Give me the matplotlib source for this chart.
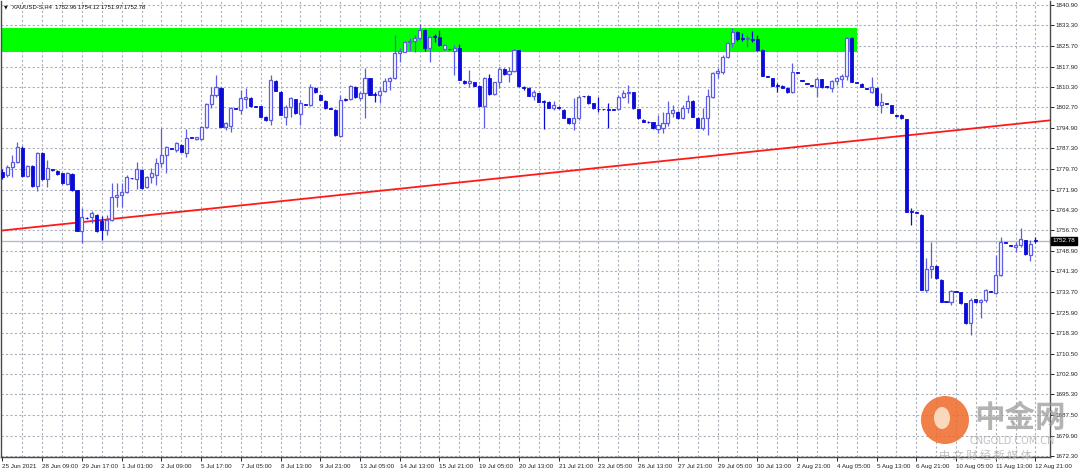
import numpy as np
import matplotlib
matplotlib.use("Agg")
import matplotlib.pyplot as plt
from matplotlib.patches import Rectangle, Ellipse
from matplotlib.transforms import blended_transform_factory

plt.rcParams["font.family"] = ["Liberation Sans", "DejaVu Sans"]

# ---- data: XAUUSD H4 candles ----
opens = [
    1778.6, 1777.4, 1780.2, 1782.3, 1787.6, 1777.0, 1780.7, 1773.2, 1785.5, 1775.7,
    1779.4, 1779.0, 1778.0, 1774.0, 1777.7, 1771.7, 1756.5, 1761.3, 1761.8, 1762.4,
    1760.0, 1756.8, 1760.5, 1769.0, 1769.9, 1771.1, 1776.3, 1775.7, 1779.2, 1773.0,
    1776.7, 1777.4, 1781.7, 1784.8, 1787.4, 1786.7, 1788.6, 1785.7, 1791.5, 1790.8,
    1790.8, 1795.4, 1803.9, 1807.3, 1810.0, 1795.2, 1795.7, 1802.3, 1801.7, 1805.6,
    1806.3, 1803.1, 1803.1, 1799.2, 1797.9, 1812.6, 1808.5, 1799.2, 1802.7, 1805.6,
    1800.2, 1803.9, 1803.4, 1810.0, 1807.3, 1805.0, 1802.3, 1801.7, 1792.0, 1805.4,
    1805.8, 1810.4, 1806.3, 1807.9, 1813.5, 1807.3, 1807.3, 1808.7, 1812.5, 1813.5,
    1822.8, 1823.5, 1826.9, 1827.4, 1828.4, 1831.6, 1824.9, 1829.1, 1829.0, 1824.5,
    1824.4, 1823.7, 1824.7, 1812.5, 1811.6, 1812.0, 1810.7, 1803.1, 1813.5, 1807.6,
    1812.0, 1817.0, 1815.0, 1816.2, 1823.9, 1810.2, 1810.0, 1806.9, 1807.9, 1805.0,
    1804.7, 1802.5, 1802.8, 1801.7, 1798.5, 1796.6, 1798.5, 1806.8, 1806.9, 1804.2,
    1802.0, 1802.0, 1801.9, 1801.8, 1801.9, 1806.6, 1808.0, 1808.2, 1801.9, 1797.9,
    1797.3, 1797.0, 1794.6, 1795.0, 1796.7, 1800.4, 1801.0, 1798.5, 1802.3, 1805.0,
    1798.8, 1794.8, 1798.5, 1806.6, 1815.4, 1816.0, 1821.4, 1826.6, 1830.7, 1828.2,
    1828.1, 1828.2, 1828.2, 1824.1, 1814.2, 1813.5, 1810.9, 1810.7, 1810.0, 1808.2,
    1815.6, 1812.6, 1811.7, 1810.9, 1810.4, 1813.2, 1810.4, 1810.0, 1812.6, 1813.2,
    1814.4, 1828.4, 1812.0, 1811.4, 1809.6, 1808.2, 1810.0, 1803.5, 1804.1, 1803.5,
    1799.5, 1799.8, 1798.2, 1763.6, 1763.3, 1762.5, 1734.4, 1742.2, 1743.5, 1738.1,
    1730.1, 1730.0, 1733.8, 1733.5, 1729.4, 1721.9, 1730.9, 1729.8, 1730.6, 1733.7,
    1733.1, 1739.9, 1752.2, 1751.0, 1750.6, 1751.2, 1753.0, 1747.4, 1752.96,
]
highs = [
    1779.5, 1781.0, 1784.8, 1789.8, 1788.0, 1781.1, 1781.0, 1785.8, 1785.8, 1783.0,
    1779.6, 1779.1, 1778.2, 1778.6, 1778.0, 1771.9, 1764.9, 1761.5, 1764.0, 1762.8,
    1762.0, 1762.4, 1774.2, 1774.2, 1774.2, 1777.4, 1776.4, 1782.3, 1779.4, 1777.0,
    1779.8, 1783.6, 1794.8, 1788.0, 1787.5, 1789.8, 1788.8, 1794.4, 1791.6, 1791.6,
    1795.7, 1804.1, 1810.4, 1814.7, 1810.2, 1797.3, 1802.9, 1802.5, 1809.1, 1809.8,
    1806.5, 1803.2, 1803.3, 1799.4, 1814.7, 1812.8, 1808.7, 1803.5, 1806.6, 1805.8,
    1805.4, 1804.0, 1811.4, 1810.2, 1807.5, 1805.2, 1802.4, 1801.9, 1807.3, 1806.0,
    1811.0, 1810.6, 1808.3, 1817.2, 1813.7, 1808.5, 1810.4, 1813.5, 1814.1, 1829.7,
    1824.7, 1827.4, 1828.4, 1829.7, 1833.7, 1831.8, 1829.4, 1830.0, 1831.6, 1826.3,
    1824.6, 1826.0, 1826.2, 1812.7, 1816.6, 1812.2, 1811.0, 1814.0, 1815.0, 1812.3,
    1817.8, 1817.2, 1817.8, 1824.4, 1824.2, 1810.5, 1810.2, 1809.0, 1808.1, 1805.3,
    1804.9, 1805.0, 1803.0, 1801.9, 1798.7, 1806.0, 1807.3, 1807.0, 1807.1, 1804.4,
    1806.6, 1802.1, 1804.2, 1801.9, 1807.3, 1809.1, 1811.0, 1808.4, 1802.1, 1798.1,
    1797.4, 1797.2, 1799.8, 1801.0, 1805.0, 1803.5, 1801.2, 1803.5, 1807.3, 1805.2,
    1799.0, 1802.5, 1809.5, 1816.0, 1817.2, 1822.2, 1827.2, 1832.4, 1831.0, 1830.3,
    1829.7, 1831.2, 1829.7, 1824.3, 1814.3, 1813.7, 1811.6, 1810.9, 1810.2, 1819.1,
    1815.7, 1812.7, 1811.8, 1811.0, 1814.1, 1813.4, 1810.6, 1812.9, 1814.1, 1815.0,
    1829.1, 1829.0, 1812.1, 1811.6, 1809.7, 1814.1, 1810.2, 1807.9, 1804.2, 1803.7,
    1799.6, 1800.0, 1798.4, 1764.9, 1763.4, 1762.7, 1746.4, 1752.4, 1743.7, 1738.3,
    1730.2, 1734.4, 1733.9, 1733.7, 1729.6, 1731.2, 1731.1, 1730.9, 1734.7, 1733.8,
    1747.4, 1754.3, 1752.3, 1751.1, 1752.4, 1757.6, 1753.2, 1753.0, 1754.12,
]
lows = [
    1775.8, 1776.5, 1776.7, 1781.7, 1776.7, 1776.7, 1773.0, 1771.5, 1775.5, 1773.0,
    1779.0, 1777.5, 1774.0, 1773.6, 1771.5, 1756.3, 1752.1, 1760.9, 1759.3, 1756.2,
    1753.1, 1754.9, 1760.3, 1765.5, 1765.5, 1770.5, 1775.9, 1772.0, 1772.2, 1772.4,
    1774.2, 1773.6, 1780.5, 1778.0, 1787.1, 1786.1, 1785.9, 1784.2, 1791.2, 1790.6,
    1790.4, 1794.8, 1802.3, 1806.6, 1795.2, 1794.2, 1793.6, 1801.9, 1800.2, 1802.3,
    1802.9, 1802.8, 1799.0, 1797.7, 1796.0, 1808.6, 1799.6, 1796.0, 1799.2, 1800.2,
    1796.0, 1803.6, 1803.1, 1808.1, 1805.2, 1802.1, 1802.0, 1792.1, 1791.4, 1805.0,
    1805.4, 1806.2, 1805.4, 1798.5, 1807.1, 1804.5, 1804.2, 1808.5, 1809.1, 1813.3,
    1819.5, 1823.2, 1823.7, 1823.2, 1827.8, 1823.7, 1819.7, 1827.2, 1825.7, 1824.2,
    1824.2, 1814.7, 1812.7, 1811.4, 1810.4, 1810.5, 1802.9, 1794.8, 1807.4, 1807.4,
    1810.0, 1814.8, 1812.3, 1815.8, 1810.4, 1809.0, 1806.7, 1805.5, 1804.5, 1794.6,
    1802.3, 1801.7, 1802.1, 1798.5, 1796.4, 1794.2, 1797.9, 1806.5, 1804.0, 1802.1,
    1801.0, 1801.8, 1794.8, 1801.5, 1801.6, 1806.0, 1804.2, 1802.1, 1798.3, 1797.1,
    1796.8, 1794.6, 1793.0, 1793.0, 1795.8, 1799.2, 1798.3, 1798.3, 1800.4, 1799.0,
    1794.8, 1794.2, 1792.3, 1806.0, 1813.5, 1815.0, 1821.0, 1825.3, 1827.5, 1827.4,
    1825.3, 1827.0, 1823.7, 1814.2, 1813.9, 1810.5, 1808.2, 1809.8, 1808.0, 1807.9,
    1815.3, 1812.4, 1811.4, 1810.6, 1806.6, 1810.0, 1809.9, 1808.5, 1811.0, 1810.4,
    1812.9, 1812.0, 1811.7, 1810.2, 1809.4, 1807.9, 1803.3, 1800.4, 1803.9, 1800.4,
    1799.2, 1798.3, 1763.4, 1758.6, 1763.0, 1734.2, 1733.7, 1738.7, 1738.5, 1729.8,
    1729.8, 1728.8, 1733.5, 1729.2, 1721.7, 1717.5, 1729.6, 1723.8, 1729.8, 1733.5,
    1733.0, 1739.5, 1751.9, 1750.7, 1748.7, 1750.6, 1747.5, 1745.2, 1751.97,
]
closes = [
    1776.7, 1780.5, 1782.3, 1787.9, 1777.0, 1780.7, 1773.2, 1785.5, 1775.7, 1779.8,
    1779.2, 1777.7, 1774.2, 1778.0, 1771.7, 1756.5, 1761.8, 1761.1, 1763.3, 1756.5,
    1756.8, 1760.5, 1769.3, 1769.9, 1771.1, 1776.7, 1776.1, 1779.5, 1772.4, 1776.7,
    1778.0, 1781.7, 1784.8, 1787.9, 1787.2, 1789.2, 1786.1, 1791.1, 1791.3, 1791.4,
    1795.4, 1803.9, 1807.3, 1810.4, 1795.4, 1796.7, 1802.3, 1802.1, 1806.0, 1806.6,
    1803.1, 1802.9, 1799.2, 1797.9, 1812.9, 1808.8, 1799.8, 1802.9, 1806.0, 1800.4,
    1804.4, 1803.7, 1810.4, 1808.3, 1805.4, 1802.3, 1802.1, 1792.3, 1805.4, 1805.3,
    1810.6, 1806.4, 1807.9, 1813.5, 1807.3, 1807.2, 1808.7, 1812.5, 1813.5, 1822.8,
    1823.7, 1826.9, 1827.4, 1828.4, 1831.6, 1824.9, 1829.1, 1829.0, 1826.0, 1826.0,
    1824.3, 1824.7, 1812.9, 1811.6, 1812.5, 1810.7, 1803.1, 1813.5, 1807.6, 1812.0,
    1817.0, 1815.0, 1816.2, 1823.9, 1810.6, 1810.0, 1806.9, 1808.5, 1804.7, 1804.7,
    1802.5, 1803.5, 1802.3, 1798.7, 1796.6, 1798.7, 1806.6, 1806.7, 1804.2, 1802.3,
    1801.9, 1801.9, 1801.8, 1801.7, 1806.6, 1807.9, 1808.2, 1802.3, 1798.5, 1797.3,
    1797.0, 1794.8, 1796.0, 1796.7, 1800.4, 1801.7, 1798.5, 1802.3, 1805.0, 1799.2,
    1795.0, 1798.8, 1806.9, 1815.4, 1816.2, 1821.6, 1826.6, 1830.7, 1828.2, 1828.1,
    1828.2, 1828.0, 1824.1, 1814.4, 1814.0, 1810.7, 1810.7, 1810.0, 1808.2, 1815.7,
    1815.4, 1812.5, 1811.5, 1810.7, 1813.2, 1810.2, 1810.2, 1812.6, 1813.5, 1814.5,
    1828.4, 1812.2, 1811.8, 1810.4, 1809.5, 1810.4, 1803.5, 1804.5, 1804.0, 1800.6,
    1799.3, 1798.5, 1763.6, 1763.5, 1763.1, 1734.4, 1742.2, 1743.5, 1738.7, 1730.0,
    1729.9, 1734.0, 1733.6, 1729.4, 1721.9, 1730.6, 1729.8, 1730.6, 1734.4, 1733.6,
    1739.9, 1752.4, 1752.0, 1750.8, 1751.2, 1753.4, 1747.7, 1751.4, 1752.78,
]

# date labels every 8 bars
date_labels = [
    "25 Jun 2021", "28 Jun 09:00", "29 Jun 17:00", "1 Jul 01:00", "2 Jul 09:00",
    "5 Jul 17:00", "7 Jul 05:00", "8 Jul 13:00", "9 Jul 21:00", "13 Jul 05:00",
    "14 Jul 13:00", "15 Jul 21:00", "19 Jul 05:00", "20 Jul 13:00", "21 Jul 21:00",
    "23 Jul 05:00", "26 Jul 13:00", "27 Jul 21:00", "29 Jul 05:00", "30 Jul 13:00",
    "2 Aug 21:00", "4 Aug 05:00", "5 Aug 13:00", "6 Aug 21:00", "10 Aug 05:00",
    "11 Aug 13:00", "12 Aug 21:00",
]
price_ticks = [
    1840.90, 1833.30, 1825.70, 1817.90, 1810.30, 1802.70, 1794.90, 1787.30,
    1779.70, 1771.90, 1764.30, 1756.70, 1748.90, 1741.30, 1733.70, 1725.90,
    1718.30, 1710.50, 1702.90, 1695.30, 1687.50, 1679.90, 1672.30,
]

# objects drawn on the chart
zone_lo, zone_hi, zone_end_bar = 1823.3, 1832.3, 172.0     # green resistance box
trend_bars = [0, 208]
trend_prices = [1756.6, 1797.2]                              # red trendline
last_price = 1752.78
title = "XAUUSD-S,H4  1752.96 1754.12 1751.97 1752.78"

BEAR = "#0b0bd8"
BULL = "#5c5ce4"
GRID = "#a9b0ba"

W, H = 1080, 473
fig = plt.figure(figsize=(W / 100, H / 100), dpi=100)
fig.patch.set_facecolor("white")
px_bar = 4.966
ax = fig.add_axes([1 / W, 1 - 457 / H, 1049 / W, 456 / H])
ax.set_xlim(-0.3, -0.3 + 1049 / px_bar)
ax.set_ylim(1671.9, 1842.4)

# grid
for p in price_ticks:
    ax.axhline(p, color=GRID, lw=0.8, ls=(0, (2, 2)), zorder=0)
for b in range(4, 212, 4):
    ax.axvline(b, color=GRID, lw=0.8, ls=(0, (2, 2)), zorder=0)

# green zone
ax.add_patch(Rectangle((-1, zone_lo), zone_end_bar + 1, zone_hi - zone_lo,
                       facecolor="#00ff00", edgecolor="none", zorder=1))

# current price line
ax.axhline(last_price, color="#b4bccb", lw=1.0, zorder=1.5)

# trendline (ray)
tb = np.array(trend_bars, float)
tp = np.array(trend_prices, float)
slope = (tp[1] - tp[0]) / (tb[1] - tb[0])
xs = np.array([-1, 215])
ax.plot(xs, tp[0] + slope * (xs - tb[0]), color="#ff1a1a", lw=1.3, zorder=2)

# candles
o = np.array(opens); h = np.array(highs); l = np.array(lows); c = np.array(closes)
x = np.arange(len(o))
bw = 0.62
for i in x:
    up = c[i] >= o[i]
    col = BULL if up else BEAR
    ax.plot([i, i], [l[i], h[i]], color=col, lw=0.9, zorder=3,
            solid_capstyle="butt")
    lo_b, hi_b = min(o[i], c[i]), max(o[i], c[i])
    hgt = max(hi_b - lo_b, 0.3)
    if up:
        ax.add_patch(Rectangle((i - bw / 2, lo_b), bw, hgt, facecolor="white",
                               edgecolor=BULL, lw=0.9, zorder=4))
    else:
        ax.add_patch(Rectangle((i - bw / 2, lo_b), bw, hgt, facecolor=BEAR,
                               edgecolor=BEAR, lw=0.6, zorder=4))

# axes styling
ax.spines["top"].set_visible(False)
for s in ("left", "right", "bottom"):
    ax.spines[s].set_color("#4a4a4a")
    ax.spines[s].set_linewidth(1.0)
ax.yaxis.tick_right()
ax.set_yticks(price_ticks)
ax.set_yticklabels([f"{p:.2f}" for p in price_ticks])
ax.tick_params(axis="y", length=3, width=0.7, pad=1.2, labelsize=4.5, colors="#222222")
ax.set_xticks(np.arange(0, 8 * len(date_labels), 8))
ax.set_xticklabels(date_labels, ha="left")
ax.tick_params(axis="x", length=3, width=0.7, pad=2, labelsize=4.5, colors="#222222")

# last price tag
tr = blended_transform_factory(ax.transAxes, ax.transData)
ax.text(1.0022, last_price, "1752.78", transform=tr, fontsize=4.5, color="white",
        va="center", ha="left", zorder=10,
        bbox=dict(boxstyle="square,pad=0.25", fc="black", ec="black"))

# title
fig.text(3.5 / W, 1 - 7 / H, "\u25bc", fontsize=3.5, va="center", ha="left",
         color="#111111", family="DejaVu Sans")
fig.text(12 / W, 1 - 7 / H, title, fontsize=4.2, va="center", ha="left", color="#111111")

# watermark
fig.patches.append(Ellipse((945 / W, 1 - 420 / H), 48 / W, 48 / H,
                           transform=fig.transFigure, facecolor="#ee6a28",
                           edgecolor="none", alpha=0.85))
fig.patches.append(Ellipse((942 / W, 1 - 418 / H), 16 / W, 22 / H,
                           transform=fig.transFigure, facecolor="#fbe3c8",
                           edgecolor="none", alpha=0.9))
cjk = ["Noto Sans CJK SC", "DejaVu Sans"]
fig.text(1020 / W, 1 - 418 / H, "中金网", fontsize=22, fontweight="bold",
         family=cjk, color="#9a9a9a", alpha=0.75, ha="center", va="center")
fig.text(1012 / W, 1 - 441 / H, "CNGOLD.COM.CN", fontsize=7, color="#b0b0b0",
         family="DejaVu Sans", alpha=0.8, ha="center", va="center")
fig.text(985 / W, 1 - 455 / H, "中 文 财 经 新 媒 体", fontsize=8,
         family=cjk, color="#b0b0b0", alpha=0.8, ha="center", va="center")

fig.savefig("out.png", dpi=100, facecolor="white")
